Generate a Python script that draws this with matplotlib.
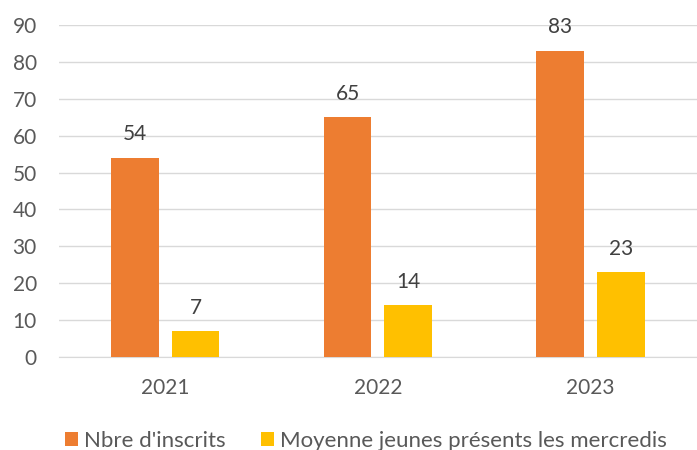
import numpy as np
import matplotlib.pyplot as plt

plt.rcParams['font.family'] = ['Lato', 'DejaVu Sans']

years = ["2021", "2022", "2023"]
inscrits = [54, 65, 83]
moyenne = [7, 14, 23]
labels = ["Nbre d'inscrits", "Moyenne jeunes présents les mercredis"]

orange = "#ED7D31"
yellow = "#FFC000"
text_color = "#595959"

fig = plt.figure(figsize=(6.97, 4.5), dpi=100)
ax = fig.add_axes([59 / 697, 1 - 357 / 450, 1 - 59 / 697, (357 - 25) / 450])

x = np.arange(len(years))
w = 0.224
b1 = ax.bar(x - 0.143, inscrits, w, color=orange, label=labels[0], zorder=3)
b2 = ax.bar(x + 0.142, moyenne, w, color=yellow, label=labels[1], zorder=3)

for bars in (b1, b2):
    for bar in bars:
        h = bar.get_height()
        ax.annotate(f"{h:.0f}", (bar.get_x() + bar.get_width() / 2, h),
                    xytext=(0, 17), textcoords="offset points",
                    ha="center", va="center", fontsize=15, color="#404040")

ax.set_xlim(-0.5, 2.5)
ax.set_ylim(0, 90)
ax.set_yticks(range(0, 91, 10))
ax.set_xticks(x)
ax.set_xticklabels(years)
ax.yaxis.grid(True, color="#D9D9D9", linewidth=1, zorder=0)
for s in ["top", "right", "left"]:
    ax.spines[s].set_visible(False)
ax.spines["bottom"].set_color("#D9D9D9")
ax.tick_params(axis="both", length=0, labelsize=15, colors=text_color)
ax.tick_params(axis="x", pad=15)
ax.tick_params(axis="y", pad=16)

fig.legend(loc="center", bbox_to_anchor=(0.525, 1 - 441 / 450), ncol=2, frameon=False,
           fontsize=16, labelcolor=text_color, handlelength=0.6, handleheight=0.6,
           handletextpad=0.25, columnspacing=1.6)

fig.savefig("out.png", dpi=100)
